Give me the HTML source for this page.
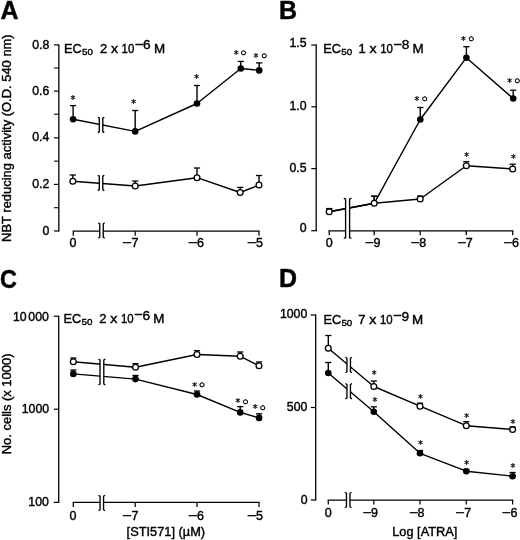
<!DOCTYPE html>
<html lang="en">
<head>
<meta charset="utf-8">
<title>Figure</title>
<style>
html,body{margin:0;padding:0;background:#fff;}
body{width:520px;height:540px;overflow:hidden;}
svg{display:block;font-family:"Liberation Sans",Arial,Helvetica,sans-serif;fill:#000;}
</style>
</head>
<body>
<svg width="520" height="540" viewBox="0 0 520 540">
<rect x="0" y="0" width="520" height="540" fill="#fff"/>
<text transform="translate(0.6,18.8) scale(0.96,1)" font-size="26" font-weight="bold" stroke="#111" stroke-width="0.5">A</text>
<line x1="58.85" y1="44.4" x2="58.85" y2="231.5" stroke="#000" stroke-width="1.3"/>
<line x1="53.95" y1="44.9" x2="58.85" y2="44.9" stroke="#000" stroke-width="1.2"/>
<text x="49.25" y="48.5" font-size="12.3" text-anchor="end" font-weight="normal" stroke="#000" stroke-width="0.4" >0.8</text>
<line x1="53.95" y1="91.1" x2="58.85" y2="91.1" stroke="#000" stroke-width="1.2"/>
<text x="49.25" y="94.699" font-size="12.3" text-anchor="end" font-weight="normal" stroke="#000" stroke-width="0.4" >0.6</text>
<line x1="53.95" y1="137.85" x2="58.85" y2="137.85" stroke="#000" stroke-width="1.2"/>
<text x="49.25" y="141.45" font-size="12.3" text-anchor="end" font-weight="normal" stroke="#000" stroke-width="0.4" >0.4</text>
<line x1="53.95" y1="184.425" x2="58.85" y2="184.425" stroke="#000" stroke-width="1.2"/>
<text x="49.25" y="188.025" font-size="12.3" text-anchor="end" font-weight="normal" stroke="#000" stroke-width="0.4" >0.2</text>
<line x1="53.95" y1="231.0" x2="58.85" y2="231.0" stroke="#000" stroke-width="1.2"/>
<text x="49.25" y="234.6" font-size="12.3" text-anchor="end" font-weight="normal" stroke="#000" stroke-width="0.4" >0</text>
<line x1="53.95" y1="68.0" x2="58.85" y2="68.0" stroke="#000" stroke-width="1.1"/>
<line x1="53.95" y1="114.2" x2="58.85" y2="114.2" stroke="#000" stroke-width="1.1"/>
<line x1="53.95" y1="161.137" x2="58.85" y2="161.137" stroke="#000" stroke-width="1.1"/>
<line x1="53.95" y1="207.712" x2="58.85" y2="207.712" stroke="#000" stroke-width="1.1"/>
<line x1="72.7" y1="231.2" x2="259.6" y2="231.2" stroke="#000" stroke-width="1.25"/>
<line x1="73.3" y1="231.2" x2="73.3" y2="235.7" stroke="#000" stroke-width="1.25"/>
<line x1="135.2" y1="231.2" x2="135.2" y2="235.7" stroke="#000" stroke-width="1.25"/>
<line x1="197" y1="231.2" x2="197" y2="235.7" stroke="#000" stroke-width="1.25"/>
<line x1="259" y1="231.2" x2="259" y2="235.7" stroke="#000" stroke-width="1.25"/>
<text x="69.50" y="247.1" font-size="12.5" stroke="#000" stroke-width="0.4">0</text>
<text stroke="#000" stroke-width="0.4" font-size="12.5"><tspan x="122.09" y="247.1" textLength="9.51" lengthAdjust="spacingAndGlyphs">−</tspan><tspan x="131.59" y="247.1">7</tspan></text>
<text stroke="#000" stroke-width="0.4" font-size="12.5"><tspan x="187.76" y="247.1" textLength="9.75" lengthAdjust="spacingAndGlyphs">−</tspan><tspan x="196.99" y="247.1">6</tspan></text>
<text stroke="#000" stroke-width="0.4" font-size="12.5"><tspan x="246.86" y="247.1" textLength="9.75" lengthAdjust="spacingAndGlyphs">−</tspan><tspan x="255.89" y="247.1">5</tspan></text>
<rect x="99.75" y="223.8" width="3.5" height="13.4" fill="#fff"/>
<polyline points="98.25,222.80 99.75,223.80 99.75,237.20 98.25,238.20" fill="none" stroke="#000" stroke-width="1.35"/>
<polyline points="104.75,222.80 103.25,223.80 103.25,237.20 104.75,238.20" fill="none" stroke="#000" stroke-width="1.35"/>
<text stroke="#000"><tspan x="64.00" y="52.60" font-size="12.4" stroke-width="0.4" textLength="17.74" lengthAdjust="spacingAndGlyphs">EC</tspan><tspan x="82.00" y="54.60" font-size="9.6" stroke-width="0.4" textLength="10.89" lengthAdjust="spacingAndGlyphs">50</tspan> <tspan x="99.90" y="52.60" font-size="12.4" stroke-width="0.4" textLength="7.24" lengthAdjust="spacingAndGlyphs">2</tspan> <tspan x="110.90" y="52.60" font-size="12.4" stroke-width="0.4" textLength="7.13" lengthAdjust="spacingAndGlyphs">x</tspan> <tspan x="121.60" y="52.70" font-size="12.4" stroke-width="0.4" textLength="12.69" lengthAdjust="spacingAndGlyphs">10</tspan><tspan x="134.90" y="48.80" font-size="13.2" stroke-width="0.6" textLength="8.48" lengthAdjust="spacingAndGlyphs">−</tspan><tspan x="143.10" y="49.20" font-size="13.2" stroke-width="0.4" textLength="7.63" lengthAdjust="spacingAndGlyphs">6</tspan> <tspan x="154.00" y="52.60" font-size="12.4" stroke-width="0.4" textLength="11.16" lengthAdjust="spacingAndGlyphs">M</tspan></text>
<polyline points="73.1,119.2 135.2,131.4 197,103.5 240.8,68.5 259.2,70.4" fill="none" stroke="#000" stroke-width="1.4" stroke-linejoin="round"/>
<polyline points="72.8,181.3 135.2,186 197,177.7 240.2,192.5 259,185" fill="none" stroke="#000" stroke-width="1.4" stroke-linejoin="round"/>
<line x1="73.1" y1="119.2" x2="73.1" y2="105.6" stroke="#000" stroke-width="1.4"/>
<line x1="135.2" y1="131.4" x2="135.2" y2="110.5" stroke="#000" stroke-width="1.4"/>
<line x1="197" y1="103.5" x2="197" y2="85.5" stroke="#000" stroke-width="1.4"/>
<line x1="240.8" y1="68.5" x2="240.8" y2="61.4" stroke="#000" stroke-width="1.4"/>
<line x1="259.2" y1="70.4" x2="259.2" y2="62.9" stroke="#000" stroke-width="1.4"/>
<line x1="72.8" y1="181.3" x2="72.8" y2="175" stroke="#000" stroke-width="1.4"/>
<line x1="135.2" y1="186" x2="135.2" y2="181" stroke="#000" stroke-width="1.4"/>
<line x1="197" y1="177.7" x2="197" y2="168" stroke="#000" stroke-width="1.4"/>
<line x1="240.2" y1="192.5" x2="240.2" y2="187.4" stroke="#000" stroke-width="1.4"/>
<line x1="259" y1="185" x2="259" y2="175.5" stroke="#000" stroke-width="1.4"/>
<rect x="99.3" y="118.2" width="3.5" height="13.4" fill="#fff"/>
<polyline points="97.80,117.20 99.30,118.20 99.30,131.60 97.80,132.60" fill="none" stroke="#000" stroke-width="1.35"/>
<polyline points="104.30,117.20 102.80,118.20 102.80,131.60 104.30,132.60" fill="none" stroke="#000" stroke-width="1.35"/>
<rect x="99.3" y="176.200" width="3.5" height="13.4" fill="#fff"/>
<polyline points="97.80,175.20 99.30,176.20 99.30,189.60 97.80,190.60" fill="none" stroke="#000" stroke-width="1.35"/>
<polyline points="104.30,175.20 102.80,176.20 102.80,189.60 104.30,190.60" fill="none" stroke="#000" stroke-width="1.35"/>
<circle cx="73.1" cy="119.2" r="3.3" fill="#000"/>
<circle cx="135.2" cy="131.4" r="3.3" fill="#000"/>
<circle cx="197" cy="103.5" r="3.3" fill="#000"/>
<circle cx="240.8" cy="68.5" r="3.3" fill="#000"/>
<circle cx="259.2" cy="70.4" r="3.3" fill="#000"/>
<circle cx="72.8" cy="181.3" r="2.9" fill="#fff" stroke="#000" stroke-width="1.3"/>
<circle cx="135.2" cy="186" r="2.9" fill="#fff" stroke="#000" stroke-width="1.3"/>
<circle cx="197" cy="177.7" r="2.9" fill="#fff" stroke="#000" stroke-width="1.3"/>
<circle cx="240.2" cy="192.5" r="2.9" fill="#fff" stroke="#000" stroke-width="1.3"/>
<circle cx="259" cy="185" r="2.9" fill="#fff" stroke="#000" stroke-width="1.3"/>
<line x1="70.0" y1="105.6" x2="76.199" y2="105.6" stroke="#000" stroke-width="1.3"/>
<line x1="132.1" y1="110.5" x2="138.299" y2="110.5" stroke="#000" stroke-width="1.3"/>
<line x1="193.9" y1="85.5" x2="200.1" y2="85.5" stroke="#000" stroke-width="1.3"/>
<line x1="237.700" y1="61.4" x2="243.9" y2="61.4" stroke="#000" stroke-width="1.3"/>
<line x1="256.099" y1="62.9" x2="262.3" y2="62.9" stroke="#000" stroke-width="1.3"/>
<line x1="69.7" y1="175" x2="75.899" y2="175" stroke="#000" stroke-width="1.3"/>
<line x1="132.1" y1="181" x2="138.299" y2="181" stroke="#000" stroke-width="1.3"/>
<line x1="193.9" y1="168" x2="200.1" y2="168" stroke="#000" stroke-width="1.3"/>
<line x1="237.1" y1="187.4" x2="243.299" y2="187.4" stroke="#000" stroke-width="1.3"/>
<line x1="255.9" y1="175.5" x2="262.1" y2="175.5" stroke="#000" stroke-width="1.3"/>
<text x="70.49" y="102.50" font-size="9.7" font-family="DejaVu Sans,sans-serif" stroke="#000" stroke-width="0.25">*</text>
<text x="131.19" y="107.00" font-size="9.7" font-family="DejaVu Sans,sans-serif" stroke="#000" stroke-width="0.25">*</text>
<text x="194.19" y="82.00" font-size="9.7" font-family="DejaVu Sans,sans-serif" stroke="#000" stroke-width="0.25">*</text>
<text x="233.79" y="57.80" font-size="9.7" font-family="DejaVu Sans,sans-serif" stroke="#000" stroke-width="0.25">*<tspan x="240.31" y="56.26" font-size="10.2" font-family="Liberation Sans,sans-serif" stroke-width="0.45">○</tspan></text>
<text x="253.49" y="60.90" font-size="9.7" font-family="DejaVu Sans,sans-serif" stroke="#000" stroke-width="0.25">*<tspan x="260.91" y="58.76" font-size="10.2" font-family="Liberation Sans,sans-serif" stroke-width="0.45">○</tspan></text>
<text transform="translate(10.6,138.1) rotate(-90)" font-size="12.95" letter-spacing="0" text-anchor="middle" stroke="#000" stroke-width="0.4">NBT reducing activity (O.D. 540 nm)</text>
<text transform="translate(279,18.8) scale(0.96,1)" font-size="26" font-weight="bold" stroke="#111" stroke-width="0.5">B</text>
<line x1="316.2" y1="44.5" x2="316.2" y2="231.2" stroke="#000" stroke-width="1.3"/>
<line x1="311.3" y1="45" x2="316.2" y2="45" stroke="#000" stroke-width="1.2"/>
<text x="306.6" y="46.800" font-size="12.3" text-anchor="end" font-weight="normal" stroke="#000" stroke-width="0.4" >1.5</text>
<line x1="311.3" y1="106.8" x2="316.2" y2="106.8" stroke="#000" stroke-width="1.2"/>
<text x="306.6" y="110.399" font-size="12.3" text-anchor="end" font-weight="normal" stroke="#000" stroke-width="0.4" >1.0</text>
<line x1="311.3" y1="168.6" x2="316.2" y2="168.6" stroke="#000" stroke-width="1.2"/>
<text x="306.6" y="172.2" font-size="12.3" text-anchor="end" font-weight="normal" stroke="#000" stroke-width="0.4" >0.5</text>
<line x1="311.3" y1="230.7" x2="316.2" y2="230.7" stroke="#000" stroke-width="1.2"/>
<text x="306.6" y="232.299" font-size="12.3" text-anchor="end" font-weight="normal" stroke="#000" stroke-width="0.4" >0</text>
<line x1="328.599" y1="230.8" x2="513.300" y2="230.8" stroke="#000" stroke-width="1.25"/>
<line x1="329.2" y1="230.8" x2="329.2" y2="235.3" stroke="#000" stroke-width="1.25"/>
<line x1="374.2" y1="230.8" x2="374.2" y2="235.3" stroke="#000" stroke-width="1.25"/>
<line x1="420.2" y1="230.8" x2="420.2" y2="235.3" stroke="#000" stroke-width="1.25"/>
<line x1="466.3" y1="230.8" x2="466.3" y2="235.3" stroke="#000" stroke-width="1.25"/>
<line x1="512.7" y1="230.8" x2="512.7" y2="235.3" stroke="#000" stroke-width="1.25"/>
<text x="325.70" y="246.6" font-size="12.5" stroke="#000" stroke-width="0.4">0</text>
<text stroke="#000" stroke-width="0.4" font-size="12.5"><tspan x="364.85" y="246.6" textLength="8.79" lengthAdjust="spacingAndGlyphs">−</tspan><tspan x="373.39" y="246.6">9</tspan></text>
<text stroke="#000" stroke-width="0.4" font-size="12.5"><tspan x="410.62" y="246.6" textLength="9.15" lengthAdjust="spacingAndGlyphs">−</tspan><tspan x="419.29" y="246.6">8</tspan></text>
<text stroke="#000" stroke-width="0.4" font-size="12.5"><tspan x="457.15" y="246.6" textLength="8.79" lengthAdjust="spacingAndGlyphs">−</tspan><tspan x="465.79" y="246.6">7</tspan></text>
<text stroke="#000" stroke-width="0.4" font-size="12.5"><tspan x="503.25" y="246.6" textLength="8.79" lengthAdjust="spacingAndGlyphs">−</tspan><tspan x="511.89" y="246.6">6</tspan></text>
<text stroke="#000"><tspan x="323.30" y="52.70" font-size="12.4" stroke-width="0.4" textLength="17.74" lengthAdjust="spacingAndGlyphs">EC</tspan><tspan x="341.30" y="54.70" font-size="9.6" stroke-width="0.4" textLength="10.89" lengthAdjust="spacingAndGlyphs">50</tspan> <tspan x="358.50" y="52.70" font-size="12.4" stroke-width="0.4" textLength="7.24" lengthAdjust="spacingAndGlyphs">1</tspan> <tspan x="369.50" y="52.70" font-size="12.4" stroke-width="0.4" textLength="7.13" lengthAdjust="spacingAndGlyphs">x</tspan> <tspan x="380.20" y="52.80" font-size="12.4" stroke-width="0.4" textLength="12.69" lengthAdjust="spacingAndGlyphs">10</tspan><tspan x="393.50" y="48.90" font-size="13.2" stroke-width="0.6" textLength="8.48" lengthAdjust="spacingAndGlyphs">−</tspan><tspan x="401.70" y="49.30" font-size="13.2" stroke-width="0.4" textLength="7.63" lengthAdjust="spacingAndGlyphs">8</tspan> <tspan x="412.60" y="52.70" font-size="12.4" stroke-width="0.4" textLength="11.16" lengthAdjust="spacingAndGlyphs">M</tspan></text>
<polyline points="329.2,211.75 374.2,203.3 420.3,119.5 466.4,57.7 513.2,98.5" fill="none" stroke="#000" stroke-width="1.4" stroke-linejoin="round"/>
<polyline points="329.2,211.75 374.2,203.2 420.2,199 466.3,165.7 512.7,169" fill="none" stroke="#000" stroke-width="1.4" stroke-linejoin="round"/>
<line x1="329.2" y1="211.75" x2="329.2" y2="208.6" stroke="#000" stroke-width="1.4"/>
<line x1="374.2" y1="203.3" x2="374.2" y2="196.2" stroke="#000" stroke-width="1.4"/>
<line x1="420.3" y1="119.5" x2="420.3" y2="107.5" stroke="#000" stroke-width="1.4"/>
<line x1="466.4" y1="57.7" x2="466.4" y2="46.7" stroke="#000" stroke-width="1.4"/>
<line x1="513.2" y1="98.5" x2="513.2" y2="90.2" stroke="#000" stroke-width="1.4"/>
<line x1="329.2" y1="211.75" x2="329.2" y2="208.6" stroke="#000" stroke-width="1.4"/>
<line x1="374.2" y1="203.2" x2="374.2" y2="196.2" stroke="#000" stroke-width="1.4"/>
<line x1="420.2" y1="199" x2="420.2" y2="196" stroke="#000" stroke-width="1.4"/>
<line x1="466.3" y1="165.7" x2="466.3" y2="161.7" stroke="#000" stroke-width="1.4"/>
<line x1="512.7" y1="169" x2="512.7" y2="164.2" stroke="#000" stroke-width="1.4"/>
<rect x="345.6" y="199.100" width="4" height="38.4" fill="#fff"/>
<polyline points="343.80,198.10 345.60,199.10 345.60,237.50 343.80,238.50" fill="none" stroke="#000" stroke-width="1.35"/>
<polyline points="351.40,198.10 349.60,199.10 349.60,237.50 351.40,238.50" fill="none" stroke="#000" stroke-width="1.35"/>
<circle cx="420.3" cy="119.5" r="3.3" fill="#000"/>
<circle cx="466.4" cy="57.7" r="3.3" fill="#000"/>
<circle cx="513.2" cy="98.5" r="3.3" fill="#000"/>
<circle cx="329.2" cy="211.75" r="2.9" fill="#fff" stroke="#000" stroke-width="1.3"/>
<circle cx="374.2" cy="203.2" r="2.9" fill="#fff" stroke="#000" stroke-width="1.3"/>
<circle cx="420.2" cy="199" r="2.9" fill="#fff" stroke="#000" stroke-width="1.3"/>
<circle cx="466.3" cy="165.7" r="2.9" fill="#fff" stroke="#000" stroke-width="1.3"/>
<circle cx="512.7" cy="169" r="2.9" fill="#fff" stroke="#000" stroke-width="1.3"/>
<line x1="326.099" y1="208.6" x2="332.3" y2="208.6" stroke="#000" stroke-width="1.3"/>
<line x1="371.099" y1="196.2" x2="377.3" y2="196.2" stroke="#000" stroke-width="1.3"/>
<line x1="417.2" y1="107.5" x2="423.400" y2="107.5" stroke="#000" stroke-width="1.3"/>
<line x1="463.299" y1="46.7" x2="469.5" y2="46.7" stroke="#000" stroke-width="1.3"/>
<line x1="510.1" y1="90.2" x2="516.300" y2="90.2" stroke="#000" stroke-width="1.3"/>
<line x1="326.099" y1="208.6" x2="332.3" y2="208.6" stroke="#000" stroke-width="1.3"/>
<line x1="371.099" y1="196.2" x2="377.3" y2="196.2" stroke="#000" stroke-width="1.3"/>
<line x1="417.099" y1="196" x2="423.3" y2="196" stroke="#000" stroke-width="1.3"/>
<line x1="463.2" y1="161.7" x2="469.400" y2="161.7" stroke="#000" stroke-width="1.3"/>
<line x1="509.6" y1="164.2" x2="515.800" y2="164.2" stroke="#000" stroke-width="1.3"/>
<text x="414.49" y="103.50" font-size="9.7" font-family="DejaVu Sans,sans-serif" stroke="#000" stroke-width="0.25">*<tspan x="421.41" y="102.16" font-size="10.2" font-family="Liberation Sans,sans-serif" stroke-width="0.45">○</tspan></text>
<text x="460.99" y="43.70" font-size="9.7" font-family="DejaVu Sans,sans-serif" stroke="#000" stroke-width="0.25">*<tspan x="467.91" y="42.36" font-size="10.2" font-family="Liberation Sans,sans-serif" stroke-width="0.45">○</tspan></text>
<text x="507.19" y="85.50" font-size="9.7" font-family="DejaVu Sans,sans-serif" stroke="#000" stroke-width="0.25">*<tspan x="514.11" y="84.16" font-size="10.2" font-family="Liberation Sans,sans-serif" stroke-width="0.45">○</tspan></text>
<text x="464.19" y="160.00" font-size="9.7" font-family="DejaVu Sans,sans-serif" stroke="#000" stroke-width="0.25">*</text>
<text x="510.89" y="162.20" font-size="9.7" font-family="DejaVu Sans,sans-serif" stroke="#000" stroke-width="0.25">*</text>
<text transform="translate(0,287.5) scale(0.9,1)" font-size="26" font-weight="bold" stroke="#111" stroke-width="0.5">C</text>
<line x1="58.7" y1="315.7" x2="58.7" y2="502.9" stroke="#000" stroke-width="1.3"/>
<line x1="53.800" y1="316.2" x2="58.7" y2="316.2" stroke="#000" stroke-width="1.2"/>
<text x="48.9" y="320.7" font-size="12.3" text-anchor="end" font-weight="normal" stroke="#000" stroke-width="0.4" >10<tspan dx="-1.7"> 000</tspan></text>
<line x1="53.800" y1="409.2" x2="58.7" y2="409.2" stroke="#000" stroke-width="1.2"/>
<text x="49.1" y="412.8" font-size="12.3" text-anchor="end" font-weight="normal" stroke="#000" stroke-width="0.4" >1000</text>
<line x1="53.800" y1="502.4" x2="58.7" y2="502.4" stroke="#000" stroke-width="1.2"/>
<text x="48.9" y="506.0" font-size="12.3" text-anchor="end" font-weight="normal" stroke="#000" stroke-width="0.4" >100</text>
<line x1="72.7" y1="502.4" x2="259.6" y2="502.4" stroke="#000" stroke-width="1.25"/>
<line x1="73.3" y1="502.4" x2="73.3" y2="506.9" stroke="#000" stroke-width="1.25"/>
<line x1="135.2" y1="502.4" x2="135.2" y2="506.9" stroke="#000" stroke-width="1.25"/>
<line x1="197" y1="502.4" x2="197" y2="506.9" stroke="#000" stroke-width="1.25"/>
<line x1="259" y1="502.4" x2="259" y2="506.9" stroke="#000" stroke-width="1.25"/>
<text x="69.50" y="519.5" font-size="12.5" stroke="#000" stroke-width="0.4">0</text>
<text stroke="#000" stroke-width="0.4" font-size="12.5"><tspan x="122.09" y="519.5" textLength="9.51" lengthAdjust="spacingAndGlyphs">−</tspan><tspan x="131.59" y="519.5">7</tspan></text>
<text stroke="#000" stroke-width="0.4" font-size="12.5"><tspan x="187.76" y="519.5" textLength="9.75" lengthAdjust="spacingAndGlyphs">−</tspan><tspan x="196.99" y="519.5">6</tspan></text>
<text stroke="#000" stroke-width="0.4" font-size="12.5"><tspan x="246.86" y="519.5" textLength="9.75" lengthAdjust="spacingAndGlyphs">−</tspan><tspan x="255.89" y="519.5">5</tspan></text>
<rect x="100.05" y="496.3" width="3.5" height="13.4" fill="#fff"/>
<polyline points="98.55,495.30 100.05,496.30 100.05,509.70 98.55,510.70" fill="none" stroke="#000" stroke-width="1.35"/>
<polyline points="105.05,495.30 103.55,496.30 103.55,509.70 105.05,510.70" fill="none" stroke="#000" stroke-width="1.35"/>
<text stroke="#000"><tspan x="63.60" y="323.20" font-size="12.4" stroke-width="0.4" textLength="17.74" lengthAdjust="spacingAndGlyphs">EC</tspan><tspan x="81.60" y="325.20" font-size="9.6" stroke-width="0.4" textLength="10.89" lengthAdjust="spacingAndGlyphs">50</tspan> <tspan x="99.20" y="323.20" font-size="12.4" stroke-width="0.4" textLength="7.24" lengthAdjust="spacingAndGlyphs">2</tspan> <tspan x="110.20" y="323.20" font-size="12.4" stroke-width="0.4" textLength="7.13" lengthAdjust="spacingAndGlyphs">x</tspan> <tspan x="120.90" y="323.30" font-size="12.4" stroke-width="0.4" textLength="12.69" lengthAdjust="spacingAndGlyphs">10</tspan><tspan x="134.20" y="319.40" font-size="13.2" stroke-width="0.6" textLength="8.48" lengthAdjust="spacingAndGlyphs">−</tspan><tspan x="142.40" y="319.80" font-size="13.2" stroke-width="0.4" textLength="7.63" lengthAdjust="spacingAndGlyphs">6</tspan> <tspan x="153.30" y="323.20" font-size="12.4" stroke-width="0.4" textLength="11.16" lengthAdjust="spacingAndGlyphs">M</tspan></text>
<polyline points="73.3,373.9 135.5,379.1 197,394.5 240.2,412.4 259.1,417.9" fill="none" stroke="#000" stroke-width="1.4" stroke-linejoin="round"/>
<polyline points="73.3,361.8 135.5,367.3 197,354.5 240.2,356.3 259,365.7" fill="none" stroke="#000" stroke-width="1.4" stroke-linejoin="round"/>
<line x1="73.3" y1="373.9" x2="73.3" y2="370" stroke="#000" stroke-width="1.4"/>
<line x1="135.5" y1="379.1" x2="135.5" y2="375.5" stroke="#000" stroke-width="1.4"/>
<line x1="197" y1="394.5" x2="197" y2="391.0" stroke="#000" stroke-width="1.4"/>
<line x1="240.2" y1="412.4" x2="240.2" y2="406.6" stroke="#000" stroke-width="1.4"/>
<line x1="259.1" y1="417.9" x2="259.1" y2="413.8" stroke="#000" stroke-width="1.4"/>
<line x1="73.3" y1="361.8" x2="73.3" y2="358" stroke="#000" stroke-width="1.4"/>
<line x1="135.5" y1="367.3" x2="135.5" y2="363.7" stroke="#000" stroke-width="1.4"/>
<line x1="197" y1="354.5" x2="197" y2="350.7" stroke="#000" stroke-width="1.4"/>
<line x1="240.2" y1="356.3" x2="240.2" y2="352" stroke="#000" stroke-width="1.4"/>
<line x1="259" y1="365.7" x2="259" y2="362" stroke="#000" stroke-width="1.4"/>
<rect x="100.0" y="360.0" width="3.8" height="24" fill="#fff"/>
<polyline points="98.50,359.00 100.00,360.00 100.00,384.00 98.50,385.00" fill="none" stroke="#000" stroke-width="1.35"/>
<polyline points="105.30,359.00 103.80,360.00 103.80,384.00 105.30,385.00" fill="none" stroke="#000" stroke-width="1.35"/>
<circle cx="73.3" cy="373.9" r="3.3" fill="#000"/>
<circle cx="135.5" cy="379.1" r="3.3" fill="#000"/>
<circle cx="197" cy="394.5" r="3.3" fill="#000"/>
<circle cx="240.2" cy="412.4" r="3.3" fill="#000"/>
<circle cx="259.1" cy="417.9" r="3.3" fill="#000"/>
<circle cx="73.3" cy="361.8" r="2.9" fill="#fff" stroke="#000" stroke-width="1.3"/>
<circle cx="135.5" cy="367.3" r="2.9" fill="#fff" stroke="#000" stroke-width="1.3"/>
<circle cx="197" cy="354.5" r="2.9" fill="#fff" stroke="#000" stroke-width="1.3"/>
<circle cx="240.2" cy="356.3" r="2.9" fill="#fff" stroke="#000" stroke-width="1.3"/>
<circle cx="259" cy="365.7" r="2.9" fill="#fff" stroke="#000" stroke-width="1.3"/>
<line x1="70.2" y1="370" x2="76.399" y2="370" stroke="#000" stroke-width="1.3"/>
<line x1="132.4" y1="375.5" x2="138.6" y2="375.5" stroke="#000" stroke-width="1.3"/>
<line x1="193.9" y1="391.0" x2="200.1" y2="391.0" stroke="#000" stroke-width="1.3"/>
<line x1="237.1" y1="406.6" x2="243.299" y2="406.6" stroke="#000" stroke-width="1.3"/>
<line x1="256.0" y1="413.8" x2="262.200" y2="413.8" stroke="#000" stroke-width="1.3"/>
<line x1="70.2" y1="358" x2="76.399" y2="358" stroke="#000" stroke-width="1.3"/>
<line x1="132.4" y1="363.7" x2="138.6" y2="363.7" stroke="#000" stroke-width="1.3"/>
<line x1="193.9" y1="350.7" x2="200.1" y2="350.7" stroke="#000" stroke-width="1.3"/>
<line x1="237.1" y1="352" x2="243.299" y2="352" stroke="#000" stroke-width="1.3"/>
<line x1="255.9" y1="362" x2="262.1" y2="362" stroke="#000" stroke-width="1.3"/>
<text x="192.29" y="390.00" font-size="9.7" font-family="DejaVu Sans,sans-serif" stroke="#000" stroke-width="0.25">*<tspan x="198.71" y="388.46" font-size="10.2" font-family="Liberation Sans,sans-serif" stroke-width="0.45">○</tspan></text>
<text x="235.39" y="406.10" font-size="9.7" font-family="DejaVu Sans,sans-serif" stroke="#000" stroke-width="0.25">*<tspan x="242.31" y="404.56" font-size="10.2" font-family="Liberation Sans,sans-serif" stroke-width="0.45">○</tspan></text>
<text x="252.69" y="412.20" font-size="9.7" font-family="DejaVu Sans,sans-serif" stroke="#000" stroke-width="0.25">*<tspan x="259.61" y="410.86" font-size="10.2" font-family="Liberation Sans,sans-serif" stroke-width="0.45">○</tspan></text>
<text transform="translate(10.8,403.9) rotate(-90)" font-size="12.95" letter-spacing="0" text-anchor="middle" stroke="#000" stroke-width="0.4">No. cells (x 1000)</text>
<text x="126.6" y="536.1" font-size="12.8" text-anchor="start" font-weight="normal" stroke="#000" stroke-width="0.4" >[STI571] (µM)</text>
<text transform="translate(279,287.2) scale(0.96,1)" font-size="26" font-weight="bold" stroke="#111" stroke-width="0.5">D</text>
<line x1="315.7" y1="314.5" x2="315.7" y2="500.5" stroke="#000" stroke-width="1.3"/>
<line x1="310.8" y1="315" x2="315.7" y2="315" stroke="#000" stroke-width="1.2"/>
<text x="307.3" y="317.8" font-size="12.3" text-anchor="end" font-weight="normal" stroke="#000" stroke-width="0.4" >1000</text>
<line x1="310.8" y1="407.5" x2="315.7" y2="407.5" stroke="#000" stroke-width="1.2"/>
<text x="307.400" y="411.1" font-size="12.3" text-anchor="end" font-weight="normal" stroke="#000" stroke-width="0.4" >500</text>
<line x1="310.8" y1="500" x2="315.7" y2="500" stroke="#000" stroke-width="1.2"/>
<text x="307.6" y="503.6" font-size="12.3" text-anchor="end" font-weight="normal" stroke="#000" stroke-width="0.4" >0</text>
<line x1="327.7" y1="500" x2="513.2" y2="500" stroke="#000" stroke-width="1.25"/>
<line x1="328.3" y1="500" x2="328.3" y2="504.5" stroke="#000" stroke-width="1.25"/>
<line x1="373.8" y1="500" x2="373.8" y2="504.5" stroke="#000" stroke-width="1.25"/>
<line x1="420" y1="500" x2="420" y2="504.5" stroke="#000" stroke-width="1.25"/>
<line x1="466.3" y1="500" x2="466.3" y2="504.5" stroke="#000" stroke-width="1.25"/>
<line x1="512.6" y1="500" x2="512.6" y2="504.5" stroke="#000" stroke-width="1.25"/>
<text x="324.80" y="516.6" font-size="12.5" stroke="#000" stroke-width="0.4">0</text>
<text stroke="#000" stroke-width="0.4" font-size="12.5"><tspan x="362.55" y="516.6" textLength="8.79" lengthAdjust="spacingAndGlyphs">−</tspan><tspan x="371.09" y="516.6">9</tspan></text>
<text stroke="#000" stroke-width="0.4" font-size="12.5"><tspan x="408.93" y="516.6" textLength="9.03" lengthAdjust="spacingAndGlyphs">−</tspan><tspan x="417.59" y="516.6">8</tspan></text>
<text stroke="#000" stroke-width="0.4" font-size="12.5"><tspan x="455.22" y="516.6" textLength="9.15" lengthAdjust="spacingAndGlyphs">−</tspan><tspan x="464.19" y="516.6">7</tspan></text>
<text stroke="#000" stroke-width="0.4" font-size="12.5"><tspan x="501.75" y="516.6" textLength="8.79" lengthAdjust="spacingAndGlyphs">−</tspan><tspan x="510.39" y="516.6">6</tspan></text>
<rect x="346.45" y="493.3" width="3.5" height="13.4" fill="#fff"/>
<polyline points="344.95,492.30 346.45,493.30 346.45,506.70 344.95,507.70" fill="none" stroke="#000" stroke-width="1.35"/>
<polyline points="351.45,492.30 349.95,493.30 349.95,506.70 351.45,507.70" fill="none" stroke="#000" stroke-width="1.35"/>
<text stroke="#000"><tspan x="323.40" y="323.90" font-size="12.4" stroke-width="0.4" textLength="17.74" lengthAdjust="spacingAndGlyphs">EC</tspan><tspan x="341.40" y="325.90" font-size="9.6" stroke-width="0.4" textLength="10.89" lengthAdjust="spacingAndGlyphs">50</tspan> <tspan x="358.30" y="323.90" font-size="12.4" stroke-width="0.4" textLength="7.24" lengthAdjust="spacingAndGlyphs">7</tspan> <tspan x="369.30" y="323.90" font-size="12.4" stroke-width="0.4" textLength="7.13" lengthAdjust="spacingAndGlyphs">x</tspan> <tspan x="380.00" y="324.00" font-size="12.4" stroke-width="0.4" textLength="12.69" lengthAdjust="spacingAndGlyphs">10</tspan><tspan x="393.30" y="320.10" font-size="13.2" stroke-width="0.6" textLength="8.48" lengthAdjust="spacingAndGlyphs">−</tspan><tspan x="401.50" y="320.50" font-size="13.2" stroke-width="0.4" textLength="7.63" lengthAdjust="spacingAndGlyphs">9</tspan> <tspan x="411.90" y="323.90" font-size="12.4" stroke-width="0.4" textLength="11.16" lengthAdjust="spacingAndGlyphs">M</tspan></text>
<polyline points="328.3,373 373.8,411.8 420,453.3 466.3,471.2 512.6,476.2" fill="none" stroke="#000" stroke-width="1.4" stroke-linejoin="round"/>
<polyline points="328.3,348.2 373.8,386.5 420,406.2 466.3,425.7 512.6,429.5" fill="none" stroke="#000" stroke-width="1.4" stroke-linejoin="round"/>
<line x1="328.3" y1="373" x2="328.3" y2="362.5" stroke="#000" stroke-width="1.4"/>
<line x1="373.8" y1="411.8" x2="373.8" y2="406.8" stroke="#000" stroke-width="1.4"/>
<line x1="420" y1="453.3" x2="420" y2="450.5" stroke="#000" stroke-width="1.4"/>
<line x1="466.3" y1="471.2" x2="466.3" y2="469.5" stroke="#000" stroke-width="1.4"/>
<line x1="512.6" y1="476.2" x2="512.6" y2="472.5" stroke="#000" stroke-width="1.4"/>
<line x1="328.3" y1="348.2" x2="328.3" y2="335.5" stroke="#000" stroke-width="1.4"/>
<line x1="373.8" y1="386.5" x2="373.8" y2="381.0" stroke="#000" stroke-width="1.4"/>
<line x1="420" y1="406.2" x2="420" y2="403.2" stroke="#000" stroke-width="1.4"/>
<line x1="466.3" y1="425.7" x2="466.3" y2="421.7" stroke="#000" stroke-width="1.4"/>
<line x1="512.6" y1="429.5" x2="512.6" y2="427" stroke="#000" stroke-width="1.4"/>
<rect x="346.95" y="358.3" width="3.5" height="13.4" fill="#fff"/>
<polyline points="345.45,357.30 346.95,358.30 346.95,371.70 345.45,372.70" fill="none" stroke="#000" stroke-width="1.35"/>
<polyline points="351.95,357.30 350.45,358.30 350.45,371.70 351.95,372.70" fill="none" stroke="#000" stroke-width="1.35"/>
<rect x="346.95" y="384.5" width="3.5" height="13.4" fill="#fff"/>
<polyline points="345.45,383.50 346.95,384.50 346.95,397.90 345.45,398.90" fill="none" stroke="#000" stroke-width="1.35"/>
<polyline points="351.95,383.50 350.45,384.50 350.45,397.90 351.95,398.90" fill="none" stroke="#000" stroke-width="1.35"/>
<circle cx="328.3" cy="373" r="3.3" fill="#000"/>
<circle cx="373.8" cy="411.8" r="3.3" fill="#000"/>
<circle cx="420" cy="453.3" r="3.3" fill="#000"/>
<circle cx="466.3" cy="471.2" r="3.3" fill="#000"/>
<circle cx="512.6" cy="476.2" r="3.3" fill="#000"/>
<circle cx="328.3" cy="348.2" r="2.9" fill="#fff" stroke="#000" stroke-width="1.3"/>
<circle cx="373.8" cy="386.5" r="2.9" fill="#fff" stroke="#000" stroke-width="1.3"/>
<circle cx="420" cy="406.2" r="2.9" fill="#fff" stroke="#000" stroke-width="1.3"/>
<circle cx="466.3" cy="425.7" r="2.9" fill="#fff" stroke="#000" stroke-width="1.3"/>
<circle cx="512.6" cy="429.5" r="2.9" fill="#fff" stroke="#000" stroke-width="1.3"/>
<line x1="325.2" y1="362.5" x2="331.400" y2="362.5" stroke="#000" stroke-width="1.3"/>
<line x1="370.7" y1="406.8" x2="376.900" y2="406.8" stroke="#000" stroke-width="1.3"/>
<line x1="416.9" y1="450.5" x2="423.1" y2="450.5" stroke="#000" stroke-width="1.3"/>
<line x1="463.2" y1="469.5" x2="469.400" y2="469.5" stroke="#000" stroke-width="1.3"/>
<line x1="509.5" y1="472.5" x2="515.7" y2="472.5" stroke="#000" stroke-width="1.3"/>
<line x1="325.2" y1="335.5" x2="331.400" y2="335.5" stroke="#000" stroke-width="1.3"/>
<line x1="370.7" y1="381.0" x2="376.900" y2="381.0" stroke="#000" stroke-width="1.3"/>
<line x1="416.9" y1="403.2" x2="423.1" y2="403.2" stroke="#000" stroke-width="1.3"/>
<line x1="463.2" y1="421.7" x2="469.400" y2="421.7" stroke="#000" stroke-width="1.3"/>
<line x1="509.5" y1="427" x2="515.7" y2="427" stroke="#000" stroke-width="1.3"/>
<text x="371.69" y="378.00" font-size="9.7" font-family="DejaVu Sans,sans-serif" stroke="#000" stroke-width="0.25">*</text>
<text x="417.89" y="401.50" font-size="9.7" font-family="DejaVu Sans,sans-serif" stroke="#000" stroke-width="0.25">*</text>
<text x="464.19" y="421.20" font-size="9.7" font-family="DejaVu Sans,sans-serif" stroke="#000" stroke-width="0.25">*</text>
<text x="510.49" y="427.00" font-size="9.7" font-family="DejaVu Sans,sans-serif" stroke="#000" stroke-width="0.25">*</text>
<text x="372.49" y="404.80" font-size="9.7" font-family="DejaVu Sans,sans-serif" stroke="#000" stroke-width="0.25">*</text>
<text x="417.89" y="447.50" font-size="9.7" font-family="DejaVu Sans,sans-serif" stroke="#000" stroke-width="0.25">*</text>
<text x="464.19" y="468.20" font-size="9.7" font-family="DejaVu Sans,sans-serif" stroke="#000" stroke-width="0.25">*</text>
<text x="510.49" y="471.20" font-size="9.7" font-family="DejaVu Sans,sans-serif" stroke="#000" stroke-width="0.25">*</text>
<text x="392.2" y="535.6" font-size="12.8" text-anchor="start" font-weight="normal" stroke="#000" stroke-width="0.4" >Log [ATRA]</text>
</svg>
</body>
</html>
